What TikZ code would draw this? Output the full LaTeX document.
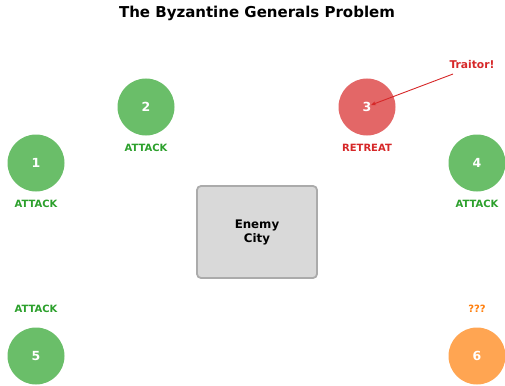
\documentclass[tikz,border=0pt]{standalone}
\usepackage{fontspec}
\setmainfont{DejaVu Sans}
\usetikzlibrary{arrows.meta}
\definecolor{gfill}{HTML}{6ABE69}
\definecolor{rfill}{HTML}{E36767}
\definecolor{ofill}{HTML}{FFA552}
\definecolor{gtext}{HTML}{2CA02C}
\definecolor{rtext}{HTML}{D62728}
\definecolor{otext}{HTML}{FF7F0E}
\definecolor{cityfill}{HTML}{D9D9D9}
\definecolor{cityline}{HTML}{ABABAB}
\begin{document}
\begin{tikzpicture}[x=1pt,y=-1pt,
  general/.style={circle,minimum size=57pt,inner sep=0pt,text=white,font=\bfseries\fontsize{12.5}{14}\selectfont},
  lbl/.style={font=\bfseries\fontsize{10}{12}\selectfont},
  ]
\useasboundingbox (0,0) rectangle (505,385);
\node[font=\bfseries\fontsize{15}{18}\selectfont] (title) at (257,13) {The Byzantine Generals Problem};
\node[general,fill=gfill] (g1) at (36,163) {1};
\node[general,fill=gfill] (g2) at (146,107) {2};
\node[general,fill=rfill] (g3) at (367,107) {3};
\node[general,fill=gfill] (g4) at (477,163) {4};
\node[general,fill=gfill] (g5) at (36,356) {5};
\node[general,fill=ofill] (g6) at (477,356) {6};
\node[lbl,text=gtext] (l1) at (36,204) {ATTACK};
\node[lbl,text=gtext] (l2) at (146,148) {ATTACK};
\node[lbl,text=rtext] (l3) at (367,148) {RETREAT};
\node[lbl,text=gtext] (l4) at (477,204) {ATTACK};
\node[lbl,text=gtext] (l5) at (36,309) {ATTACK};
\node[lbl,text=otext] (l6) at (477,309) {???};
\node[draw=cityline,line width=1.8pt,fill=cityfill,rounded corners=4pt,minimum width=120pt,minimum height=92pt,align=center,font=\bfseries\fontsize{11.8}{14}\selectfont] (city) at (257,232) {Enemy\\City};
\node[font=\bfseries\fontsize{10.7}{13}\selectfont,text=rtext] (traitor) at (472,65) {Traitor!};
\coordinate (t3) at (371,105);
\draw[rtext,line width=0.9pt,-{Stealth[length=5pt,width=4pt]}] (453,74) -- (t3);
\end{tikzpicture}
\end{document}
